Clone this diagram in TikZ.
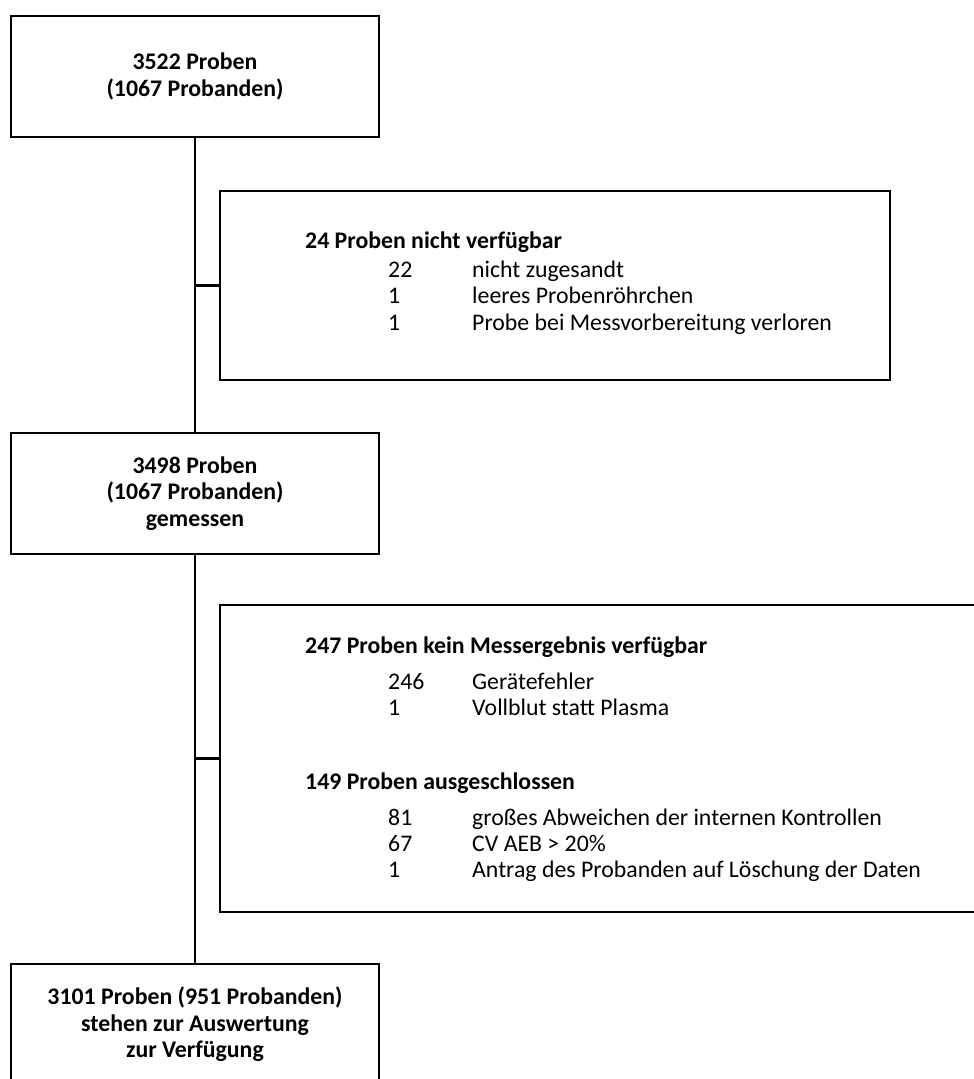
\documentclass[tikz,border=0pt]{standalone}
\usepackage{fontspec}
\setmainfont{Carlito}
\newcommand{\flowfont}{\fontsize{23.8}{26.5}\selectfont}

\begin{document}
\begin{tikzpicture}[x=1pt,y=-1pt,
  box/.style={draw, line width=2.7pt, inner sep=0pt, align=center, font=\flowfont\bfseries},
  mainbox/.style={box, minimum width=368pt, minimum height=121pt},
  head/.style={anchor=base west, inner sep=0pt, font=\flowfont\bfseries},
  entry/.style={anchor=base west, inner sep=0pt, font=\flowfont},
  link/.style={line width=2.7pt}]
\useasboundingbox (0,0) rectangle (974,1079);

% Main column
\node [mainbox] (start) at (195,76.5) {3522 Proben\\(1067 Probanden)};
\node [mainbox] (measured) at (195,493.5) {3498 Proben\\(1067 Probanden)\\gemessen};
\node [mainbox] (result) at (195,1024.5)
  {3101 Proben (951 Probanden)\\stehen zur Auswertung\\zur Verf\"ugung};

% Side boxes
\node [box, minimum width=670pt, minimum height=189pt] (missing) at (555,285.5) {};
\node [box, minimum width=765pt, minimum height=307pt] (excluded) at (602.5,758.5) {};

% Texts of the first side box
\node [head] (misshead) at (305,248) {24 Proben nicht verf\"ugbar};
\foreach \n/\t/\y in {22/nicht zugesandt/277, 1/leeres Probenr\"ohrchen/303,
                      1/Probe bei Messvorbereitung verloren/330} {
\node [entry] (missn\y) at (388,\y) {\n};
\node [entry] (misst\y) at (472,\y) {\t};
}

% Texts of the second side box
\node [head] (errhead) at (305,653) {247 Proben kein Messergebnis verf\"ugbar};
\foreach \n/\t/\y in {246/Ger\"atefehler/689, 1/Vollblut statt Plasma/715} {
\node [entry] (errn\y) at (388,\y) {\n};
\node [entry] (errt\y) at (472,\y) {\t};
}
\node [head] (exhead) at (305,789) {149 Proben ausgeschlossen};
\foreach \n/\t/\y in {81/gro\ss es Abweichen der internen Kontrollen/825,
                      67/CV AEB > 20\%/851,
                      1/Antrag des Probanden auf L\"oschung der Daten/877} {
\node [entry] (exn\y) at (388,\y) {\n};
\node [entry] (ext\y) at (472,\y) {\t};
}

% Connectors
\draw [link] (start.south) -- (measured.north);
\draw [link] (measured.south) -- (result.north);
\draw [link] (missing.west) -- (missing.west -| start.south);
\draw [link] (excluded.west) -- (excluded.west -| measured.south);
\end{tikzpicture}
\end{document}
